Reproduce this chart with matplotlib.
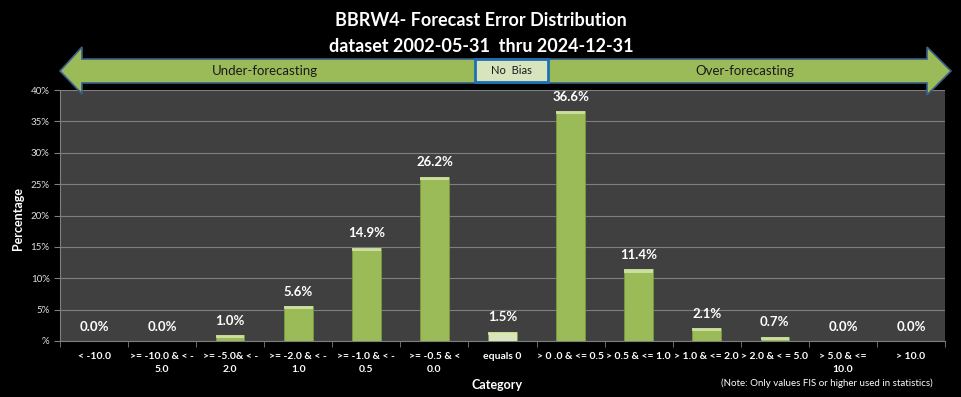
"""
BBRW4 forecast error distribution chart.
"""

import numpy as np
import matplotlib
matplotlib.use('Agg')
import matplotlib.pyplot as plt
from matplotlib.patches import Polygon, Rectangle

# Colours
BG      = '#000000'
PLOT_BG = '#404040'
GRID    = '#7f7f7f'
GREEN   = '#9bbb59'
GREEN_E = '#7a9a3e'
PALE    = '#d7e4bd'
ARROW_E = '#385d8a'
BOX_E   = '#1f6fb5'
WHITE   = '#ffffff'

FONT = 'Lato'

# Data
categories = ['< -10.0', '>= -10.0 & < -\n5.0', '>= -5.0& < -\n2.0',
              '>= -2.0 & < -\n1.0', '>= -1.0 & < -\n0.5', '>= -0.5 & <\n0.0',
              'equals 0', '> 0 .0 & <= 0.5', '> 0.5 & <= 1.0',
              '> 1.0 & <= 2.0', '> 2.0 & < = 5.0', '> 5.0 & <=\n10.0', '> 10.0']
values = [0.0, 0.0, 1.0, 5.6, 14.9, 26.2, 1.5, 36.6, 11.4, 2.1, 0.7, 0.0, 0.0]
yticks = [0, 5, 10, 15, 20, 25, 30, 35, 40]
ytick_labels = ['%', '5%', '10%', '15%', '20%', '25%', '30%', '35%', '40%']

W, H = 961, 397
fig = plt.figure(figsize=(W / 100, H / 100), dpi=100, facecolor=BG)
ax = fig.add_axes([60 / W, 1 - 341 / H, 885 / W, 251 / H])
ax.set_facecolor(PLOT_BG)

x = np.arange(len(categories))
colors = [PALE if c == 'equals 0' else GREEN for c in categories]
ax.bar(x, values, width=0.42, color=colors, edgecolor=GREEN_E, linewidth=0.6, zorder=3)
# light highlight on bar tops
for xi, v in zip(x, values):
    if v > 0:
        ax.bar(xi, min(0.5, v), bottom=v - min(0.5, v), width=0.42,
               color='#d9e8b0', edgecolor='none', zorder=4, alpha=0.8)
    ax.text(xi, v + 1.3, f'{v:.1f}%', ha='center', va='bottom', color=WHITE,
            fontsize=9.5, fontweight='bold', family=FONT, zorder=5)

ax.set_xlim(-0.5, len(categories) - 0.5)
ax.set_ylim(0, 40)
ax.set_yticks(yticks)
ax.set_yticklabels(ytick_labels)
ax.grid(axis='y', color=GRID, linewidth=0.8, zorder=0)
ax.set_axisbelow(True)

ax.set_xticks(x)
ax.set_xticklabels(categories, fontsize=7.5, fontweight='bold', color=WHITE, family=FONT,
                   linespacing=1.6)
ax.set_xticks(np.arange(-0.5, len(categories)), minor=True)
ax.tick_params(axis='x', which='major', length=0, pad=8)
ax.tick_params(axis='x', which='minor', length=4, color=GRID, direction='out')
ax.tick_params(axis='y', length=4, color=GRID, labelsize=7, labelcolor='#e0e0e0')
for lbl in ax.get_yticklabels():
    lbl.set_family(FONT)

for name, sp in ax.spines.items():
    sp.set_visible(name in ('left', 'bottom'))
    sp.set_color(GRID)

fig.text(18 / W, 1 - 218 / H, 'Percentage', rotation=90, ha='center', va='center',
         color=WHITE, fontsize=9, fontweight='bold', family=FONT)
fig.text(497 / W, 1 - 385 / H, 'Category', ha='center', va='center',
         color=WHITE, fontsize=9, fontweight='bold', family=FONT)
fig.text(827 / W, 1 - 383 / H, '(Note: Only values FIS or higher used in statistics)',
         ha='center', va='center', color=WHITE, fontsize=7, family=FONT)

# Title
fig.text(481 / W, 1 - 21 / H, 'BBRW4- Forecast Error Distribution', ha='center', va='center',
         color=WHITE, fontsize=13, fontweight='bold', family=FONT)
fig.text(481 / W, 1 - 46 / H, 'dataset 2002-05-31  thru 2024-12-31', ha='center', va='center',
         color=WHITE, fontsize=13, fontweight='bold', family=FONT)

# Double-headed arrow (pixel coords -> figure fraction)
def px(pts):
    return [(a / W, 1 - b / H) for a, b in pts]

arrow = px([(60, 71), (82, 47), (82, 59), (927, 59), (927, 47), (951, 71),
            (927, 95), (927, 83), (82, 83), (82, 94)])
fig.patches.append(Polygon(arrow, closed=True, facecolor=GREEN, edgecolor=ARROW_E,
                           linewidth=1.2, transform=fig.transFigure, zorder=10))
fig.patches.append(Rectangle((475 / W, 1 - 82 / H), 73 / W, 23 / H, facecolor=PALE,
                             edgecolor=BOX_E, linewidth=2, transform=fig.transFigure, zorder=11))
fig.text(511 / W, 1 - 71 / H, 'No  Bias', ha='center', va='center', color='#1a1a1a',
         fontsize=8, family=FONT, zorder=12)
fig.text(265 / W, 1 - 71 / H, 'Under-forecasting', ha='center', va='center', color='#1a1a1a',
         fontsize=9.5, family=FONT, zorder=12)
fig.text(745 / W, 1 - 71 / H, 'Over-forecasting', ha='center', va='center', color='#1a1a1a',
         fontsize=9.5, family=FONT, zorder=12)

plt.savefig('out.png', dpi=100, facecolor=BG)
plt.close()
